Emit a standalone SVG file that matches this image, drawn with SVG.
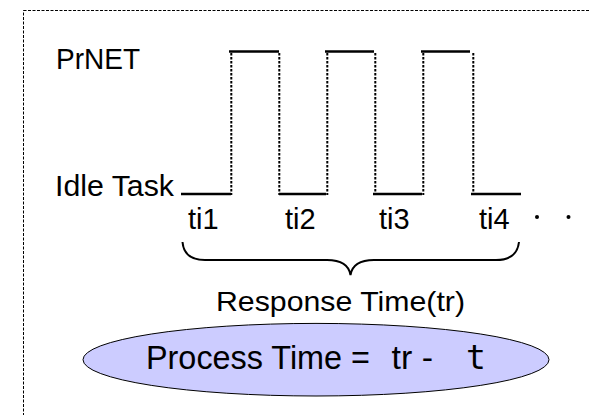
<svg xmlns="http://www.w3.org/2000/svg" width="590" height="415" viewBox="0 0 590 415">
  <style>
    .lbl { font-family: "Liberation Sans", Arial, sans-serif; fill: #000; }
    .solid { stroke: #000; stroke-width: 2.5; fill: none; }
    .dot { stroke: #000; stroke-width: 2; stroke-dasharray: 2.5 1.5; fill: none; }
    .brace { stroke: #000; stroke-width: 2; fill: none; }
  </style>
  <rect width="590" height="415" fill="#fff"/>
  <g id="frame">
    <rect x="23.5" y="10.5" width="620" height="440" fill="none" stroke="#000" stroke-width="1" stroke-dasharray="3 1.5"/>
  </g>
  <g id="labels">
    <text class="lbl" x="56" y="69" font-size="30" textLength="84" lengthAdjust="spacingAndGlyphs">PrNET</text>
    <text class="lbl" x="55" y="196" font-size="29" textLength="119" lengthAdjust="spacingAndGlyphs">Idle Task</text>
  </g>
  <g id="connectors">
    <g id="waveform-high">
      <line class="solid" x1="229" y1="51.5" x2="279" y2="51.5"/>
      <line class="solid" x1="325" y1="51.5" x2="374" y2="51.5"/>
      <line class="solid" x1="421" y1="51.5" x2="470" y2="51.5"/>
    </g>
    <g id="waveform-low">
      <line class="solid" x1="181" y1="194" x2="231" y2="194"/>
      <line class="solid" x1="279" y1="194" x2="326" y2="194"/>
      <line class="solid" x1="373" y1="194" x2="422" y2="194"/>
      <line class="solid" x1="471" y1="194" x2="521" y2="194"/>
    </g>
    <g id="transitions">
      <line class="dot" x1="231.3" y1="53" x2="231.3" y2="195"/>
      <line class="dot" x1="279.3" y1="53" x2="279.3" y2="195"/>
      <line class="dot" x1="327.3" y1="53" x2="327.3" y2="195"/>
      <line class="dot" x1="375.3" y1="53" x2="375.3" y2="195"/>
      <line class="dot" x1="423.3" y1="53" x2="423.3" y2="195"/>
      <line class="dot" x1="473.3" y1="53" x2="473.3" y2="195"/>
    </g>
    <path id="brace" class="brace" d="M182.5,242 Q184,260 205,260 L327,260 Q348,260 350.5,275 Q353,260 374,260 L496,260 Q517,260 519,242"/>
  </g>
  <g id="ticks">
    <text class="lbl" x="188" y="228.5" font-size="29">ti1</text>
    <text class="lbl" x="285" y="228.5" font-size="29">ti2</text>
    <text class="lbl" x="379" y="228.5" font-size="29">ti3</text>
    <text class="lbl" x="479" y="228.5" font-size="29">ti4</text>
    <circle cx="537" cy="217" r="2" fill="#000"/>
    <circle cx="568.5" cy="217" r="2" fill="#000"/>
  </g>
  <g id="response">
    <text class="lbl" x="216" y="311" font-size="28" textLength="249" lengthAdjust="spacingAndGlyphs">Response Time(tr)</text>
  </g>
  <g id="process">
    <ellipse cx="316" cy="359.7" rx="233" ry="36.3" fill="#CCCCFF" stroke="#000" stroke-width="1"/>
    <text class="lbl" y="369.3" font-size="33">
      <tspan x="146" textLength="224" lengthAdjust="spacingAndGlyphs">Process Time =</tspan>
      <tspan x="391.5" textLength="41.5" lengthAdjust="spacingAndGlyphs">tr -</tspan>
      <tspan x="466" font-family="'DejaVu Sans Mono', monospace">t</tspan>
    </text>
  </g>
</svg>
